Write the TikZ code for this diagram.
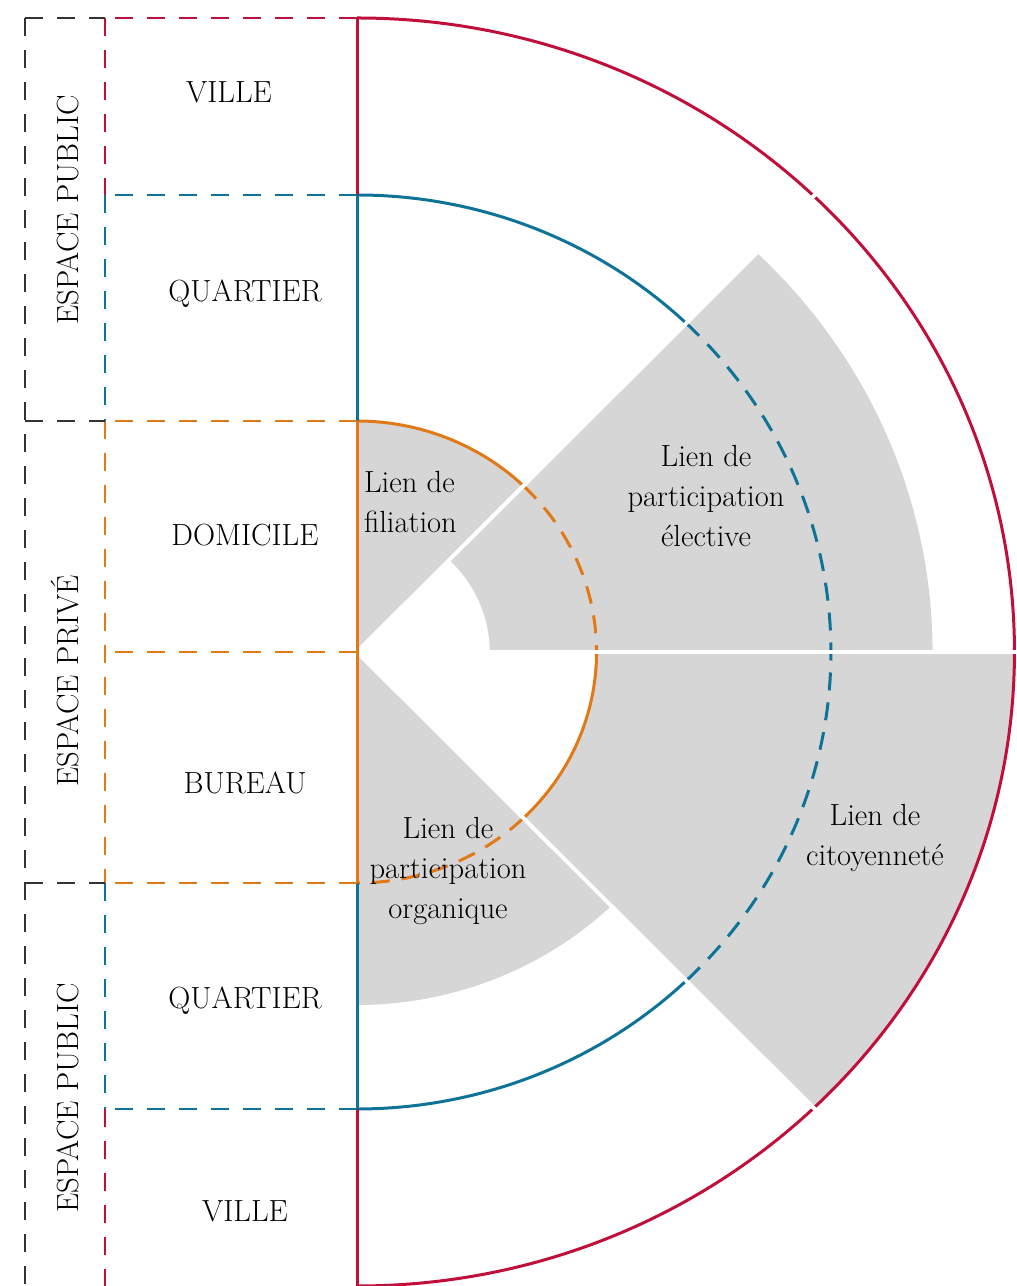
\documentclass[tikz,border=0pt]{standalone}
\usepackage{fontspec}
\definecolor{ville}{RGB}{192,16,58}
\definecolor{quartier}{RGB}{14,115,150}
\definecolor{domicile}{RGB}{226,121,22}
\definecolor{lien}{RGB}{214,214,214}

\begin{document}
\begin{tikzpicture}[x=0.5pt,y=0.5pt,
  trait/.style={line width=1.5pt},
  tiret/.style={line width=1.5pt,dash pattern=on 9pt off 6pt},
  guide/.style={line width=1pt,dash pattern=on 9pt off 7pt},
  coupe/.style={white,line width=2pt},
  secteur/.style={fill=lien},
  etiq/.style={font=\fontsize{15.3}{20}\selectfont},
  lien/.style={font=\fontsize{15.3}{20}\selectfont,align=center}]
\useasboundingbox (0,0) rectangle (1017,1286);
\coordinate (O) at (357,634);
\coordinate (v1) at (357,1268);
\coordinate (q1) at (357,1091);
\coordinate (d1) at (357,865);
\coordinate (d2) at (357,403);
\coordinate (q2) at (357,177);
\coordinate (v2) at (357,0);
\coordinate (g) at (105,0);
\coordinate (b) at (25,0);

\begin{scope}[shift={(O)},xscale=1.037]
\fill[secteur] (0,0) -- (46:231) arc[start angle=46,end angle=90,radius=231] -- cycle;
\fill[secteur] (0:128) arc[start angle=0,end angle=46,radius=128] -- (46:555) arc[start angle=46,end angle=0,radius=555] -- cycle;
\fill[secteur] (0,0) -- (-90:353) arc[start angle=-90,end angle=-46,radius=353] -- cycle;
\fill[secteur] (0:231) arc[start angle=0,end angle=-46,radius=231] -- (-46:634) arc[start angle=-46,end angle=0,radius=634] -- cycle;

\draw[trait,ville] (90:634) arc[start angle=90,end angle=-90,radius=634];
\draw[trait,quartier] (90:457) arc[start angle=90,end angle=46,radius=457];
\draw[tiret,quartier] (46:457) arc[start angle=46,end angle=-46,radius=457];
\draw[trait,quartier] (-46:457) arc[start angle=-46,end angle=-90,radius=457];
\draw[trait,domicile] (90:231) arc[start angle=90,end angle=46,radius=231];
\draw[tiret,domicile] (46:231) arc[start angle=46,end angle=0,radius=231];
\draw[trait,domicile] (0:231) arc[start angle=0,end angle=-46,radius=231];
\draw[tiret,domicile] (-46:231) arc[start angle=-46,end angle=-90,radius=231];

\coordinate (c1) at (46:637);
\coordinate (c2) at (0:637);
\coordinate (c3) at (-46:637);
\draw[coupe] (0,0) -- (c1);
\draw[coupe] (0,0) -- (c2);
\draw[coupe] (0,0) -- (c3);
\end{scope}

\draw[trait,ville] (v1) -- (q1);
\draw[trait,quartier] (q1) -- (d1);
\draw[trait,domicile] (d1) -- (d2);
\draw[trait,quartier] (d2) -- (q2);
\draw[trait,ville] (q2) -- (v2);

\draw[guide,ville] (v1) -- (v1-|g);
\draw[guide,quartier] (q1) -- (q1-|g);
\draw[guide,domicile] (d1) -- (d1-|g);
\draw[guide,domicile] (O) -- (O-|g);
\draw[guide,domicile] (d2) -- (d2-|g);
\draw[guide,quartier] (q2) -- (q2-|g);
\draw[guide,ville] (v1-|g) -- (q1-|g);
\draw[guide,quartier] (q1-|g) -- (d1-|g);
\draw[guide,domicile] (d1-|g) -- (d2-|g);
\draw[guide,quartier] (d2-|g) -- (q2-|g);
\draw[guide,ville] (q2-|g) -- (v2-|g);

\draw[guide,black!80] (v1-|b) -- (v2-|b);
\draw[guide,black!80] (v1-|b) -- (v1-|g);
\draw[guide,black!80] (d1-|b) -- (d1-|g);
\draw[guide,black!80] (d2-|b) -- (d2-|g);

\node[etiq] (ville1) at (229,1194) {VILLE};
\node[etiq] (quartier1) at (245,992) {QUARTIER};
\node[etiq] (domicile) at (245,751) {DOMICILE};
\node[etiq] (bureau) at (245,503) {BUREAU};
\node[etiq] (quartier2) at (245,285) {QUARTIER};
\node[etiq] (ville2) at (245,75) {VILLE};
\node[etiq,rotate=90,anchor=base] (public1) at (78,1076) {ESPACE PUBLIC};
\node[etiq,rotate=90,anchor=base] (prive) at (78,605) {ESPACE PRIVÉ};
\node[etiq,rotate=90,anchor=base] (public2) at (78,188) {ESPACE PUBLIC};

\node[lien,align=left,anchor=west] (filiation) at (357,784) {Lien de\\filiation};
\node[lien] (elective) at (706,790) {Lien de\\participation\\élective};
\node[lien] (organique) at (448,415) {Lien de\\participation\\organique};
\node[lien] (citoyennete) at (875,448) {Lien de\\citoyenneté};
\end{tikzpicture}
\end{document}
